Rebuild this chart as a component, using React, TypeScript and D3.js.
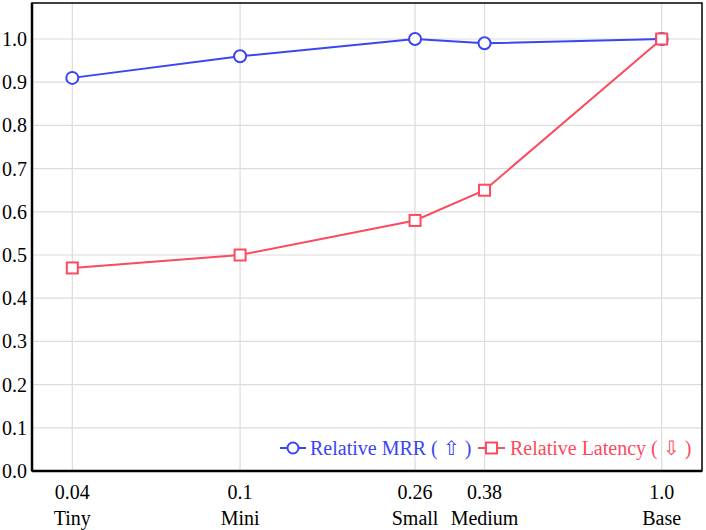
import * as d3 from 'd3';

const SIZES = [0.04, 0.1, 0.26, 0.38, 1.0];
const SIZE_LABELS = ['0.04', '0.1', '0.26', '0.38', '1.0'];
const MODEL_NAMES = ['Tiny', 'Mini', 'Small', 'Medium', 'Base'];
const RELATIVE_MRR = [0.91, 0.96, 1.0, 0.99, 1.0];
const RELATIVE_LATENCY = [0.47, 0.5, 0.58, 0.65, 1.0];
const Y_TICKS = [0, 0.1, 0.2, 0.3, 0.4, 0.5, 0.6, 0.7, 0.8, 0.9, 1.0];

const WIDTH = 706;
const HEIGHT = 530;
// frame of the plot area, in page pixels
const FRAME = { left: 32, top: 3, right: 702, bottom: 471 };
const BLUE = '#3b45f2';
const RED = '#fc4a5e';
const FONT = '"Liberation Serif", "Times New Roman", serif';

const App = () => {
  const boundsWidth = FRAME.right - FRAME.left;
  const boundsHeight = FRAME.bottom - FRAME.top;

  const xScale = d3.scaleLog().domain([0.04, 1]).range([40.3, 629.7]);
  const yScale = d3.scaleLinear().domain([0, 1]).range([boundsHeight, boundsHeight - 432]);

  const line = d3
    .line<number>()
    .x((_, i) => xScale(SIZES[i]))
    .y((d) => yScale(d));

  const grid = (
    <g>
      {Y_TICKS.map((v, i) => (
        <line key={'h' + i} x1={0} x2={boundsWidth} y1={yScale(v)} y2={yScale(v)} stroke="#dcdcdc" strokeWidth={1.2} />
      ))}
      {SIZES.map((s, i) => (
        <line key={'v' + i} x1={xScale(s)} x2={xScale(s)} y1={0} y2={boundsHeight} stroke="#dcdcdc" strokeWidth={1.2} />
      ))}
    </g>
  );

  const yLabels = Y_TICKS.map((v, i) => (
    <text key={i} x={-5} y={yScale(v)} textAnchor="end" dominantBaseline="central" fontSize={20} fontFamily={FONT}>
      {v.toFixed(1)}
    </text>
  ));

  const xLabels = SIZES.map((s, i) => (
    <g key={i}>
      <text x={xScale(s)} y={boundsHeight + 21} textAnchor="middle" dominantBaseline="central" fontSize={20} fontFamily={FONT}>
        {SIZE_LABELS[i]}
      </text>
      <text x={xScale(s)} y={boundsHeight + 47} textAnchor="middle" dominantBaseline="central" fontSize={20} fontFamily={FONT}>
        {MODEL_NAMES[i]}
      </text>
    </g>
  ));

  const legendY = boundsHeight - 23;
  const legend = (
    <g fontFamily={FONT} fontSize={20}>
      <line x1={248} x2={274} y1={legendY} y2={legendY} stroke={BLUE} strokeWidth={2} />
      <circle cx={261} cy={legendY} r={5.5} fill="white" stroke={BLUE} strokeWidth={2} />
      <text x={278} y={legendY} dominantBaseline="central" fill={BLUE} style={{ whiteSpace: 'pre' }}>
        {'Relative MRR ( ⇧ )'}
      </text>
      <line x1={446} x2={473} y1={legendY} y2={legendY} stroke={RED} strokeWidth={2} />
      <rect x={454} y={legendY - 5.5} width={11} height={11} fill="white" stroke={RED} strokeWidth={2} />
      <text x={478} y={legendY} dominantBaseline="central" fill={RED} style={{ whiteSpace: 'pre' }}>
        {'Relative Latency ( ⇩ )'}
      </text>
    </g>
  );

  return (
    <div>
      <svg width={WIDTH} height={HEIGHT} style={{ position: 'absolute', left: 0, top: 0 }}>
        <rect width={WIDTH} height={HEIGHT} fill="white" />
        <g transform={`translate(${FRAME.left},${FRAME.top})`}>
          {grid}
          <path d={line(RELATIVE_LATENCY) ?? ''} fill="none" stroke={RED} strokeWidth={2} />
          <path d={line(RELATIVE_MRR) ?? ''} fill="none" stroke={BLUE} strokeWidth={2} />
          {RELATIVE_MRR.map((v, i) => (
            <circle key={i} cx={xScale(SIZES[i])} cy={yScale(v)} r={6} fill="white" stroke={BLUE} strokeWidth={2} />
          ))}
          {RELATIVE_LATENCY.map((v, i) => (
            <rect
              key={i}
              x={xScale(SIZES[i]) - 5.5}
              y={yScale(v) - 5.5}
              width={11}
              height={11}
              fill="white"
              stroke={RED}
              strokeWidth={2}
            />
          ))}
          {legend}
          <rect x={0} y={0} width={boundsWidth} height={boundsHeight} fill="none" stroke="black" strokeWidth={1.5} />
          <line x1={0} x2={0} y1={0} y2={boundsHeight} stroke="black" strokeWidth={2.5} />
          <line x1={0} x2={boundsWidth} y1={boundsHeight} y2={boundsHeight} stroke="black" strokeWidth={2.5} />
          {yLabels}
          {xLabels}
        </g>
      </svg>
    </div>
  );
};

export default App;
